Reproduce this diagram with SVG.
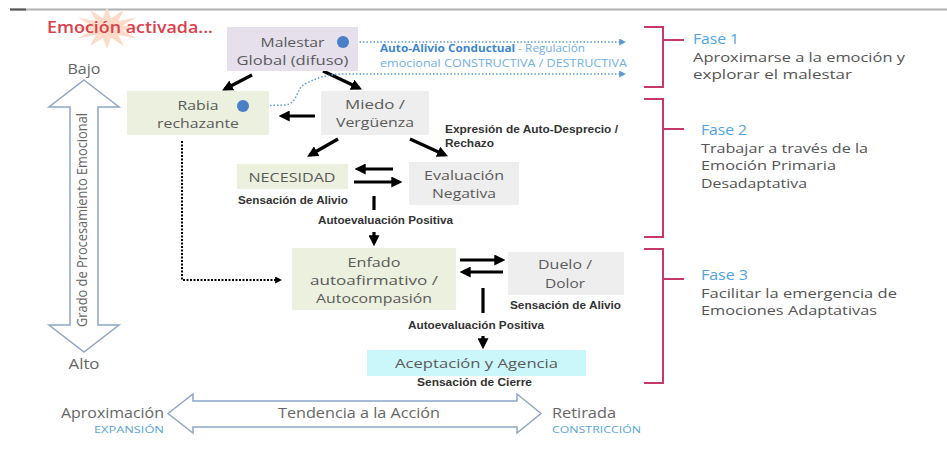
<svg xmlns="http://www.w3.org/2000/svg" width="947" height="461" viewBox="0 0 947 461">
<style>
text{font-family:"Open Sans","Liberation Sans",sans-serif}
.bx{font-size:13px;fill:#5a5a5a;text-anchor:middle}
.lb{font-family:"Liberation Sans",Arial,sans-serif;font-size:10px;font-weight:bold;fill:#333}
.ph{font-size:14px;fill:#4fa3e0}
.pd{font-size:13.5px;fill:#555}
.ax{font-size:14px;fill:#666}
.axs{font-size:9px;fill:#5aa5dc}
.ar{stroke:#000;stroke-width:3.2;fill:none}
.bl{stroke:#5b9bd5;stroke-width:1.5;stroke-dasharray:1.5 2;fill:none}
.br{stroke:#c4386c;stroke-width:2;fill:none}
.big{fill:#fff;stroke:#8fa6c6;stroke-width:1.5}
</style>
<defs>
<marker id="ah" viewBox="0 0 10 10" refX="7" refY="5" markerUnits="userSpaceOnUse" markerWidth="11" markerHeight="11" orient="auto"><path d="M0,0 L10,5 L0,10 z" fill="#000"/></marker>
<marker id="sh" viewBox="0 0 10 10" refX="7" refY="5" markerUnits="userSpaceOnUse" markerWidth="7" markerHeight="7" orient="auto"><path d="M0,0 L10,5 L0,10 z" fill="#000"/></marker>
<marker id="bh" viewBox="0 0 10 10" refX="7" refY="5" markerUnits="userSpaceOnUse" markerWidth="7" markerHeight="7" orient="auto"><path d="M0,0 L10,5 L0,10 z" fill="#5b9bd5"/></marker>
</defs>
<rect width="947" height="461" fill="#fff"/>
<line x1="10" y1="9.5" x2="947" y2="9.5" stroke="#b0b0b0" stroke-width="2"/>
<line x1="10" y1="9.5" x2="26" y2="9.5" stroke="#555" stroke-width="2"/>
<g id="title">
<polygon fill="#fcdcc8" points="141,28 122.5,30.6 136.4,38.5 118.3,35.1 124,46.2 111.1,37.7 107,49 102.9,37.7 90,46.2 95.7,35.1 77.6,38.5 91.5,30.6 73,28 91.5,25.4 77.6,17.5 95.7,20.9 90,9.8 102.9,18.3 107,7 111.1,18.3 124,9.8 118.3,20.9 136.4,17.5 122.5,25.4"/>
<text x="47" y="33" font-size="17" font-weight="600" fill="#d9414a" textLength="166" lengthAdjust="spacingAndGlyphs">Emoción activada...</text>
</g>
<g id="axis-vertical">
<polygon class="big" points="84,80 119,107 98,107 98,325 119,325 84,352 49,325 70,325 70,107 49,107"/>
<text x="84" y="74" class="ax" font-size="13" text-anchor="middle" textLength="33" lengthAdjust="spacingAndGlyphs">Bajo</text>
<text x="84" y="369" class="ax" font-size="13" text-anchor="middle" textLength="31" lengthAdjust="spacingAndGlyphs">Alto</text>
<text x="83" y="224" class="ax" font-size="13" text-anchor="middle" transform="rotate(-90 83 220)" textLength="214" lengthAdjust="spacingAndGlyphs">Grado de Procesamiento Emocional</text>
</g>
<g id="axis-horizontal">
<polygon class="big" points="168,413.5 193,394 193,401 517,401 517,394 541,413.5 517,433 517,427 193,427 193,433"/>
<text x="164" y="418" class="ax" text-anchor="end" textLength="103" lengthAdjust="spacingAndGlyphs">Aproximación</text>
<text x="164" y="433" class="axs" text-anchor="end" textLength="70" lengthAdjust="spacingAndGlyphs">EXPANSIÓN</text>
<text x="359" y="418" class="ax" text-anchor="middle" textLength="162" lengthAdjust="spacingAndGlyphs">Tendencia a la Acción</text>
<text x="552" y="418" class="ax" textLength="64" lengthAdjust="spacingAndGlyphs">Retirada</text>
<text x="552" y="433" class="axs" textLength="89" lengthAdjust="spacingAndGlyphs">CONSTRICCIÓN</text>
</g>
<g id="connectors">
<path class="ar" d="M252,75 L225,89" marker-end="url(#ah)"/>
<path class="ar" d="M323,71 L359,88" marker-end="url(#ah)"/>
<path class="ar" d="M315,116 L282,116" marker-end="url(#ah)"/>
<path class="ar" d="M338,139 L310,155" marker-end="url(#ah)"/>
<path class="ar" d="M410,139 L445,155" marker-end="url(#ah)"/>
<path class="ar" d="M393,169 L358,169" marker-end="url(#ah)"/>
<path class="ar" d="M354,182 L399,182" marker-end="url(#ah)"/>
<path class="ar" d="M374,196 L374,210" stroke-width="4"/>
<path class="ar" d="M374,232 L374,243" marker-end="url(#ah)"/>
<path class="ar" d="M460,260 L502,260" marker-end="url(#ah)"/>
<path class="ar" d="M503,272 L463,272" marker-end="url(#ah)"/>
<path class="ar" d="M483,288 L483,313" stroke-width="4"/>
<path class="ar" d="M483,336 L483,346" marker-end="url(#ah)"/>
<path d="M182,141 L182,280 L280,280" fill="none" stroke="#000" stroke-width="2" stroke-dasharray="2 1.5" marker-end="url(#sh)"/>
<path class="bl" d="M349,42 L624,42" marker-end="url(#bh)"/>
<path class="bl" d="M249,106 L285,105 C298,104 296,88 305,84 C315,79 325,74 345,74 L624,74" marker-end="url(#bh)"/>
<text x="380" y="52" font-size="10.5" textLength="205" lengthAdjust="spacingAndGlyphs"><tspan font-weight="bold" fill="#3d85d0">Auto-Alivio Conductual</tspan><tspan fill="#6fb0e6"> - Regulación</tspan></text>
<text x="380" y="67" font-size="10.5" fill="#6fb0e6" textLength="247" lengthAdjust="spacingAndGlyphs">emocional CONSTRUCTIVA / DESTRUCTIVA</text>
<text x="445" y="133" class="lb" textLength="173" lengthAdjust="spacingAndGlyphs">Expresión de Auto-Desprecio /</text>
<text x="445" y="147" class="lb" textLength="49" lengthAdjust="spacingAndGlyphs">Rechazo</text>
<text x="238" y="204" class="lb" textLength="110" lengthAdjust="spacingAndGlyphs">Sensación de Alivio</text>
<text x="318" y="224" class="lb" textLength="135" lengthAdjust="spacingAndGlyphs">Autoevaluación Positiva</text>
<text x="510" y="309" class="lb" textLength="111" lengthAdjust="spacingAndGlyphs">Sensación de Alivio</text>
<text x="408" y="329" class="lb" textLength="136" lengthAdjust="spacingAndGlyphs">Autoevaluación Positiva</text>
<text x="417" y="386" class="lb" textLength="115" lengthAdjust="spacingAndGlyphs">Sensación de Cierre</text>
</g>
<g id="malestar">
<rect x="227" y="27" width="131" height="44" fill="#e5e0ec"/>
<text x="292.5" y="47" class="bx" textLength="64" lengthAdjust="spacingAndGlyphs">Malestar</text>
<text x="292.5" y="65" class="bx" textLength="112" lengthAdjust="spacingAndGlyphs">Global (difuso)</text>
<circle cx="343" cy="42" r="6" fill="#4a7ec6"/>
</g>
<g id="rabia">
<rect x="127" y="91" width="142" height="44" fill="#ebf1de"/>
<text x="198" y="110" class="bx" textLength="41" lengthAdjust="spacingAndGlyphs">Rabia</text>
<text x="198" y="128" class="bx" textLength="82" lengthAdjust="spacingAndGlyphs">rechazante</text>
<circle cx="243" cy="106" r="6" fill="#4a7ec6"/>
</g>
<g id="miedo">
<rect x="321" y="91" width="108" height="44" fill="#eeeeee"/>
<text x="375" y="109" class="bx" textLength="60" lengthAdjust="spacingAndGlyphs">Miedo /</text>
<text x="375" y="127" class="bx" textLength="78" lengthAdjust="spacingAndGlyphs">Vergüenza</text>
</g>
<g id="necesidad">
<rect x="237" y="164" width="111" height="25" fill="#ebf1de"/>
<text x="292" y="182" class="bx" textLength="87" lengthAdjust="spacingAndGlyphs">NECESIDAD</text>
</g>
<g id="evaluacion">
<rect x="409" y="162" width="110" height="43" fill="#eeeeee"/>
<text x="464" y="180" class="bx" textLength="80" lengthAdjust="spacingAndGlyphs">Evaluación</text>
<text x="464" y="198" class="bx" textLength="64" lengthAdjust="spacingAndGlyphs">Negativa</text>
</g>
<g id="enfado">
<rect x="292" y="248" width="164" height="62" fill="#ebf1de"/>
<text x="374" y="267" class="bx" textLength="53" lengthAdjust="spacingAndGlyphs">Enfado</text>
<text x="374" y="285" class="bx" textLength="128" lengthAdjust="spacingAndGlyphs">autoafirmativo /</text>
<text x="374" y="303" class="bx" textLength="116" lengthAdjust="spacingAndGlyphs">Autocompasión</text>
</g>
<g id="duelo">
<rect x="508" y="252" width="116" height="43" fill="#eeeeee"/>
<text x="565" y="269" class="bx" textLength="54" lengthAdjust="spacingAndGlyphs">Duelo /</text>
<text x="565" y="288" class="bx" textLength="40" lengthAdjust="spacingAndGlyphs">Dolor</text>
</g>
<g id="aceptacion">
<rect x="367" y="350" width="219" height="26" fill="#ccf7fa"/>
<text x="476.5" y="368" class="bx" textLength="163" lengthAdjust="spacingAndGlyphs">Aceptación y Agencia</text>
</g>
<g id="fase1">
<path class="br" d="M644,27 H663 V87 H644 M663,40 H684"/>
<text x="693" y="44" class="ph" textLength="46" lengthAdjust="spacingAndGlyphs">Fase 1</text>
<text x="693" y="62" class="pd" textLength="212" lengthAdjust="spacingAndGlyphs">Aproximarse a la emoción y</text>
<text x="693" y="79" class="pd" textLength="159" lengthAdjust="spacingAndGlyphs">explorar el malestar</text>
</g>
<g id="fase2">
<path class="br" d="M644,99 H663 V237 H644 M663,129 H684"/>
<text x="701" y="135" class="ph" textLength="46" lengthAdjust="spacingAndGlyphs">Fase 2</text>
<text x="701" y="153" class="pd" textLength="167" lengthAdjust="spacingAndGlyphs">Trabajar a través de la</text>
<text x="701" y="170" class="pd" textLength="135" lengthAdjust="spacingAndGlyphs">Emoción Primaria</text>
<text x="701" y="188" class="pd" textLength="106" lengthAdjust="spacingAndGlyphs">Desadaptativa</text>
</g>
<g id="fase3">
<path class="br" d="M644,249 H663 V383 H644 M663,279 H684"/>
<text x="701" y="280" class="ph" textLength="47" lengthAdjust="spacingAndGlyphs">Fase 3</text>
<text x="701" y="298" class="pd" textLength="196" lengthAdjust="spacingAndGlyphs">Facilitar la emergencia de</text>
<text x="701" y="315" class="pd" textLength="176" lengthAdjust="spacingAndGlyphs">Emociones Adaptativas</text>
</g>
</svg>
